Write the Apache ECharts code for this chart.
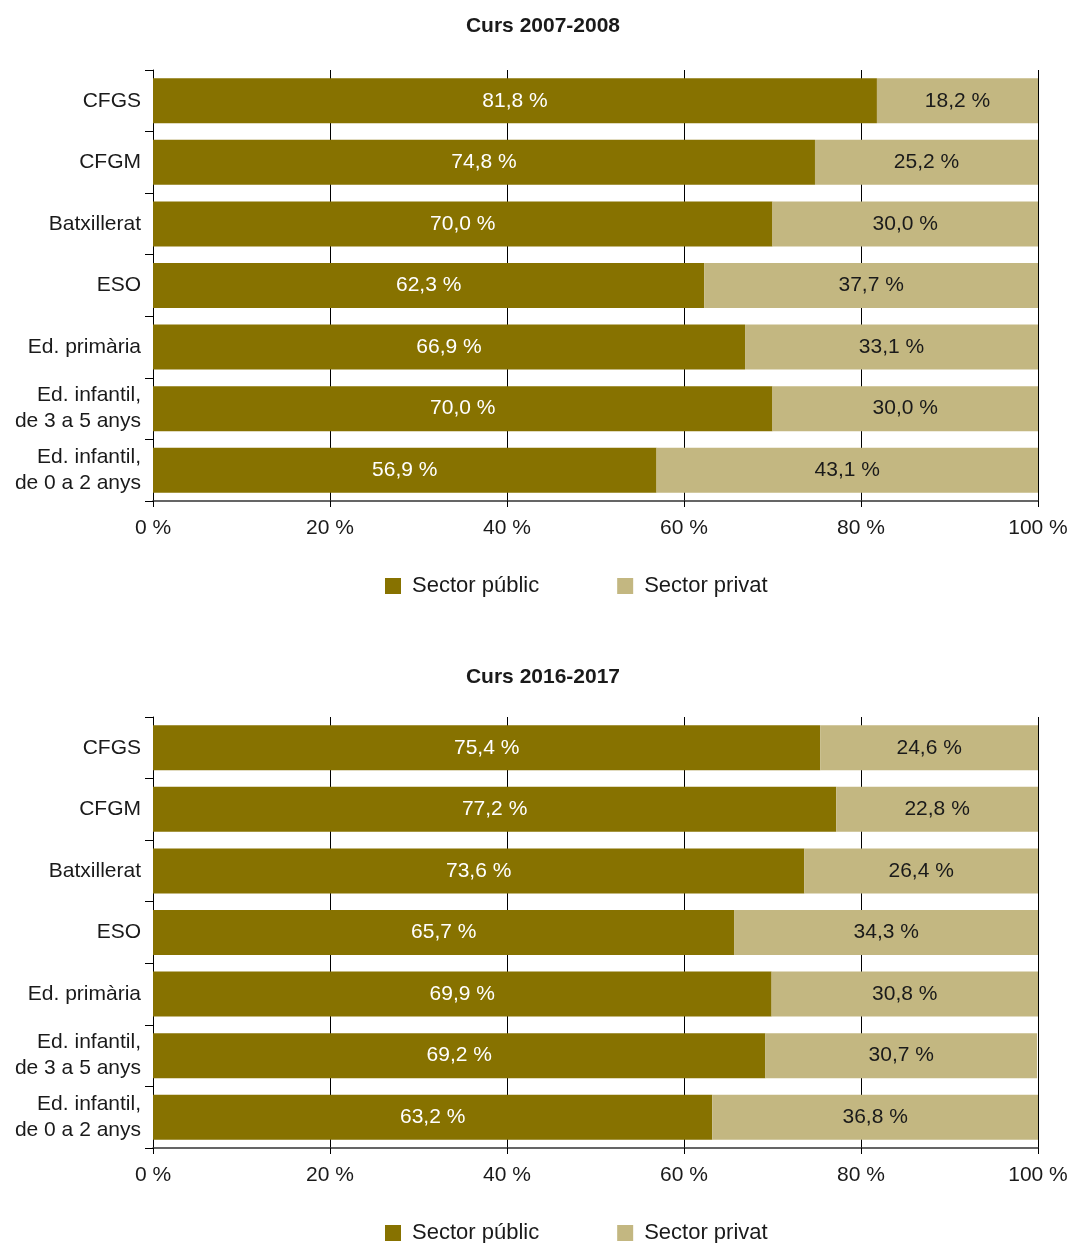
<!DOCTYPE html>
<html>
<head>
<meta charset="utf-8">
<script src="https://cdn.jsdelivr.net/npm/echarts@6/dist/echarts.min.js"></script>
<style>
  html, body { margin: 0; padding: 0; background: #fff; }
  #chart { width: 1071px; height: 1243px; }
</style>
</head>
<body>
<div id="chart"></div>
<script>
// Levels of education (top to bottom)
const categories = [
  'CFGS',
  'CFGM',
  'Batxillerat',
  'ESO',
  'Ed. primària',
  'Ed. infantil,\nde 3 a 5 anys',
  'Ed. infantil,\nde 0 a 2 anys'
];

// Share of students by sector, school year 2007-2008 (%)
const public2007 = [81.8, 74.8, 70.0, 62.3, 66.9, 70.0, 56.9];
const private2007 = [18.2, 25.2, 30.0, 37.7, 33.1, 30.0, 43.1];

// Share of students by sector, school year 2016-2017 (%)
const public2016 = [75.4, 77.2, 73.6, 65.7, 69.9, 69.2, 63.2];
const private2016 = [24.6, 22.8, 26.4, 34.3, 30.8, 30.7, 36.8];

const titles = ['Curs 2007-2008', 'Curs 2016-2017'];
const seriesNames = ['Sector públic', 'Sector privat'];
const xTicks = [0, 20, 40, 60, 80, 100];

const FONT = '"Liberation Sans", Arial, Helvetica, sans-serif';
const TEXT = '#1a1a1a';
const PUBLIC_COLOR = '#877200';
const PRIVATE_COLOR = '#c3b781';

const gridTops = [70, 717];
const titleTops = [11, 662];
const gridHeight = 431;

function fmt(v) {
  return v.toFixed(1).replace('.', ',') + ' %';
}

const chart = echarts.init(document.getElementById('chart'), null, { renderer: 'canvas' });

const option = {
  animation: false,
  textStyle: { fontFamily: FONT },
  title: titles.map((t, i) => ({
    text: t,
    left: 538,
    textAlign: 'center',
    top: titleTops[i],
    textStyle: { fontFamily: FONT, fontSize: 21, fontWeight: 'bold', color: TEXT }
  })),
  legend: [0, 1].map(i => ({
    data: seriesNames,
    left: 380,
    top: gridTops[i] + gridHeight + 69,
    itemWidth: 16,
    itemHeight: 16,
    itemGap: 78,
    icon: 'rect',
    textStyle: { fontFamily: FONT, fontSize: 22, color: TEXT, padding: [0, 0, 0, 6] }
  })),
  grid: gridTops.map(t => ({
    left: 153,
    right: 33,
    top: t,
    height: gridHeight,
    containLabel: false
  })),
  xAxis: [0, 1].map(i => ({
    type: 'value',
    gridIndex: i,
    min: xTicks[0],
    max: xTicks[xTicks.length - 1],
    interval: 20,
    axisLine: { show: true, lineStyle: { color: '#333', width: 1.5 } },
    axisTick: { show: true, length: 6, lineStyle: { color: '#000' } },
    axisLabel: {
      margin: 17,
      fontFamily: FONT,
      fontSize: 21,
      color: TEXT,
      formatter: v => v + ' %'
    },
    splitLine: { show: true, lineStyle: { color: '#000', width: 1 } }
  })),
  yAxis: [0, 1].map(i => ({
    type: 'category',
    gridIndex: i,
    data: categories,
    inverse: true,
    axisLine: { show: true, lineStyle: { color: '#000', width: 1 } },
    axisTick: { show: true, length: 8, lineStyle: { color: '#000' } },
    axisLabel: {
      margin: 12,
      fontFamily: FONT,
      fontSize: 21,
      lineHeight: 26,
      color: TEXT,
      align: 'right'
    },
    splitLine: { show: false }
  })),
  series: []
};

const yearData = [[public2007, private2007], [public2016, private2016]];
yearData.forEach((pair, i) => {
  option.series.push({
    name: seriesNames[0],
    type: 'bar',
    stack: 'share' + i,
    xAxisIndex: i,
    yAxisIndex: i,
    barWidth: 45,
    data: pair[0],
    itemStyle: { color: PUBLIC_COLOR },
    label: {
      show: true,
      position: 'inside',
      color: '#fff',
      fontFamily: FONT,
      fontSize: 21,
      formatter: p => fmt(p.value)
    }
  });
  option.series.push({
    name: seriesNames[1],
    type: 'bar',
    stack: 'share' + i,
    xAxisIndex: i,
    yAxisIndex: i,
    barWidth: 45,
    data: pair[1],
    itemStyle: { color: PRIVATE_COLOR },
    label: {
      show: true,
      position: 'inside',
      color: TEXT,
      fontFamily: FONT,
      fontSize: 21,
      formatter: p => fmt(p.value)
    }
  });
});

chart.setOption(option);
</script>
</body>
</html>
